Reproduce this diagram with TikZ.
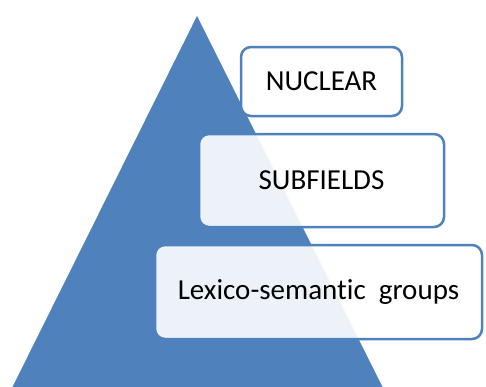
\documentclass[tikz,border=0pt]{standalone}
\usepackage{fontspec}
\setmainfont{Carlito}[Ligatures=NoCommon]
\usepackage{tikz}
\usetikzlibrary{positioning}
\definecolor{pyrblue}{HTML}{4F81BD}
\tikzset{basic/.style={draw=pyrblue,line width=2.5pt,fill=white,fill opacity=0.9,text opacity=1,rounded corners=10pt,font=\fontsize{29}{33}\selectfont,inner sep=0pt}}
\tikzset{level/.style={basic}}
\tikzset{pyramid/.style={fill=pyrblue,draw=white,line width=1.5pt}}

\begin{document}
\begin{tikzpicture}[x=1pt,y=-1pt]
    \useasboundingbox (0,0) rectangle (486,386);
    \coordinate (top) at (197,14);
    \coordinate (bl) at (10,390);
    \coordinate (br) at (385,390);
    \path[pyramid] (top) -- (br) -- (bl) -- cycle;
        \node[level,minimum width=161pt,minimum height=69pt] (nuclear) at (321.5,81.5) {NUCLEAR};
        \node[level,minimum width=245pt,minimum height=93pt] (sub) at (321.5,180.5) {SUBFIELDS};
        \node[level,minimum width=327pt,minimum height=94pt] (lex) at (318.5,292) {Lexico-semantic~ groups};
\end{tikzpicture}
\end{document}
